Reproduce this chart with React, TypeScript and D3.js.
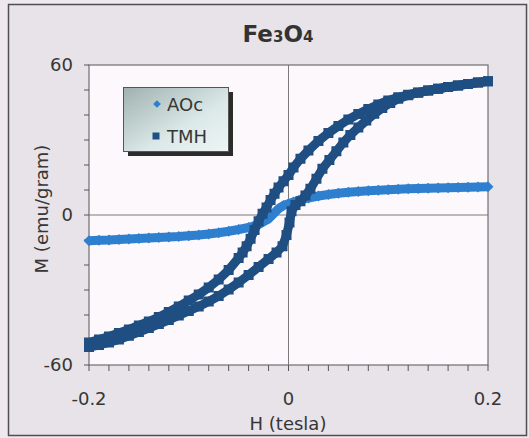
import React from "react";
import * as d3 from "d3";

// Applied field H (tesla) and magnetisation M (emu/gram)
const aocH = [
  -0.2, -0.19, -0.18, -0.17, -0.16, -0.15, -0.14, -0.13, -0.12, -0.11, -0.1, -0.09, -0.08, -0.07,
  -0.06, -0.05, -0.04, -0.03, -0.02, -0.015, -0.01, -0.005, 0, 0.005, 0.01, 0.02, 0.03, 0.04, 0.05,
  0.06, 0.07, 0.08, 0.09, 0.1, 0.11, 0.12, 0.13, 0.14, 0.15, 0.16, 0.17, 0.18, 0.19, 0.2,
];
const aocM = [
  -10.3, -10.1, -10.0, -9.8, -9.6, -9.4, -9.2, -9.0, -8.8, -8.6, -8.3, -8.0, -7.6, -7.1,
  -6.5, -5.8, -5.0, -3.8, -1.5, 0.5, 2.5, 3.8, 4.5, 5.2, 5.8, 6.8, 7.6, 8.2, 8.7,
  9.1, 9.4, 9.7, 9.9, 10.1, 10.3, 10.5, 10.6, 10.7, 10.8, 10.9, 11.0, 11.1, 11.2, 11.3,
];

// TMH loop, rising-field branch
const tmhRiseH = [
  -0.2, -0.19, -0.18, -0.17, -0.16, -0.15, -0.14, -0.13, -0.12, -0.11, -0.1, -0.09, -0.08, -0.07,
  -0.06, -0.05, -0.04, -0.03, -0.02, -0.012, -0.006, -0.002, 0.001, 0.003, 0.007, 0.012, 0.017,
  0.022, 0.028, 0.034, 0.041, 0.048, 0.055, 0.062, 0.07, 0.078, 0.086, 0.094, 0.102, 0.11, 0.12,
  0.13, 0.14, 0.15, 0.16, 0.17, 0.18, 0.19, 0.2,
];
const tmhRiseM = [
  -52.8, -52.0, -51.0, -49.8, -48.3, -46.8, -45.2, -43.6, -42.0, -40.2, -38.4, -36.6, -34.6, -32.4,
  -29.8, -27.0, -24.0, -20.8, -17.6, -15.0, -12.5, -8.0, -3.0, 1.5, 4.0, 5.5, 7.8,
  10.5, 14.5, 18.5, 22.0, 25.5, 29.0, 32.0, 35.0, 37.8, 40.5, 42.8, 44.8, 46.5, 47.9,
  48.9, 49.8, 50.5, 51.2, 51.8, 52.4, 53.0, 53.5,
];

// TMH loop, falling-field branch
const tmhFallH = [
  0.2, 0.19, 0.18, 0.17, 0.16, 0.15, 0.14, 0.13, 0.12, 0.11, 0.1, 0.09, 0.08, 0.07, 0.06, 0.05,
  0.04, 0.03, 0.02, 0.012, 0.005, 0, -0.005, -0.01, -0.014, -0.018, -0.022, -0.026, -0.03, -0.034,
  -0.038, -0.042, -0.046, -0.05, -0.06, -0.07, -0.08, -0.09, -0.1, -0.11, -0.12, -0.13, -0.14,
  -0.15, -0.16, -0.17, -0.18, -0.19, -0.2,
];
const tmhFallM = [
  53.5, 53.0, 52.4, 51.8, 51.2, 50.5, 49.8, 49.0, 48.1, 47.1, 45.8, 44.2, 42.4, 40.4, 38.2, 35.6,
  32.8, 29.6, 25.8, 22.5, 19.0, 16.0, 13.5, 11.0, 8.5, 6.0, 3.0, 0.5, -2.5, -6.0,
  -9.5, -12.5, -15.0, -17.2, -22.0, -25.8, -29.0, -31.8, -34.2, -36.6, -38.8, -40.8, -42.6,
  -44.2, -45.8, -47.2, -48.6, -49.8, -51.0,
];

const xTickLabels = [-0.2, 0, 0.2];
const yTickLabels = [-60, 0, 60];
const seriesNames = ["AOc", "TMH"];

const W = 529;
const H = 438;
const FONT = "'DejaVu Sans', Verdana, sans-serif";
const AOC_COLOR = "#2f7fcf";
const TMH_COLOR = "#1f4f82";
const TEXT = "#363636";

const plot = { left: 89, right: 488, top: 65, bottom: 365 };

export default function App() {
  const x = d3.scaleLinear().domain([-0.2, 0.2]).range([plot.left, plot.right]);
  const y = d3.scaleLinear().domain([-60, 60]).range([plot.bottom, plot.top]);

  const pts = (hs: number[], ms: number[]) => hs.map((h, i) => [h, ms[i]] as [number, number]);
  const aoc = pts(aocH, aocM);
  const tmhRise = pts(tmhRiseH, tmhRiseM);
  const tmhFall = pts(tmhFallH, tmhFallM);

  const line = d3
    .line<[number, number]>()
    .x((d) => x(d[0]))
    .y((d) => y(d[1]));

  const square = d3.symbol().type(d3.symbolSquare).size(100)()!;
  const diamond = d3.symbol().type(d3.symbolSquare).size(60)()!;
  const legSquare = d3.symbol().type(d3.symbolSquare).size(49)()!;
  const legDiamond = d3.symbol().type(d3.symbolSquare).size(30)()!;

  const xMinor = d3.range(-0.2, 0.2001, 0.02);
  const yMinor = d3.range(-60, 60.001, 10);

  const fmtX = (v: number) => (v === 0 ? "0" : d3.format(".1f")(v).replace("−", "-"));

  return (
    <svg
      width={W}
      height={H}
      style={{ position: "absolute", left: 0, top: 0 }}
      fontFamily={FONT}
    >
      <defs>
        <linearGradient id="legFill" x1="0" y1="0" x2="1" y2="1">
          <stop offset="0" stopColor="#9fb1af" />
          <stop offset="0.6" stopColor="#dbe9e8" />
          <stop offset="1" stopColor="#eef5f5" />
        </linearGradient>
        <clipPath id="plotClip">
          <rect x={plot.left - 6} y={plot.top - 6} width={plot.right - plot.left + 12} height={plot.bottom - plot.top + 12} />
        </clipPath>
      </defs>

      <rect x={0} y={0} width={W} height={H} fill="#efe9ef" />
      <rect x={8.5} y={4.5} width={518} height={431} fill="#e7e3e9" stroke="#4f4f4f" strokeWidth={1.5} />

      {/* title */}
      <text x={278} y={42} textAnchor="middle" fontWeight="bold" fontSize={23} fill="#333">
        Fe<tspan fontSize={15}>3</tspan>O<tspan fontSize={15}>4</tspan>
      </text>

      {/* plot area */}
      <rect
        x={plot.left}
        y={plot.top}
        width={plot.right - plot.left}
        height={plot.bottom - plot.top}
        fill="#fdf8fc"
        stroke="#6e6e6e"
        strokeWidth={1.2}
      />

      {/* zero lines */}
      <line x1={x(0)} x2={x(0)} y1={plot.top} y2={plot.bottom} stroke="#7a7a7a" strokeWidth={1} />
      <line x1={plot.left} x2={plot.right} y1={y(0)} y2={y(0)} stroke="#7a7a7a" strokeWidth={1} />

      {/* axis ticks */}
      {yMinor.map((v) => (
        <line key={"yt" + v} x1={plot.left - 5} x2={plot.left} y1={y(v)} y2={y(v)} stroke="#555" strokeWidth={1} />
      ))}
      {xMinor.map((v) => (
        <line key={"xt" + v} x1={x(v)} x2={x(v)} y1={plot.bottom} y2={plot.bottom + 6} stroke="#555" strokeWidth={1} />
      ))}

      {yTickLabels.map((v) => (
        <text key={"yl" + v} x={73} y={y(v)} dy="0.36em" textAnchor="end" fontSize={18} fill={TEXT}>
          {v}
        </text>
      ))}
      {xTickLabels.map((v) => (
        <text key={"xl" + v} x={x(v)} y={405} textAnchor="middle" fontSize={18} fill={TEXT}>
          {fmtX(v)}
        </text>
      ))}

      <text x={288} y={430} textAnchor="middle" fontSize={18} fill={TEXT}>
        H (tesla)
      </text>
      <text transform="translate(48,209) rotate(-90)" textAnchor="middle" fontSize={18} fill={TEXT}>
        M (emu/gram)
      </text>

      {/* series */}
      <g clipPath="url(#plotClip)">
        <path d={line(aoc)!} fill="none" stroke={AOC_COLOR} strokeWidth={9} strokeLinejoin="round" />
        {aoc.map((d, i) => (
          <path
            key={"a" + i}
            d={diamond}
            transform={`translate(${x(d[0])},${y(d[1])}) rotate(45)`}
            fill={AOC_COLOR}
          />
        ))}
        <path d={line(tmhRise)!} fill="none" stroke={TMH_COLOR} strokeWidth={9} strokeLinejoin="round" />
        <path d={line(tmhFall)!} fill="none" stroke={TMH_COLOR} strokeWidth={9} strokeLinejoin="round" />
        {tmhRise.concat(tmhFall).map((d, i) => (
          <path key={"t" + i} d={square} transform={`translate(${x(d[0])},${y(d[1])})`} fill={TMH_COLOR} />
        ))}
      </g>

      {/* legend */}
      <rect x={128} y={92} width={105} height={64} fill="#2c2c2c" />
      <rect x={123.5} y={87.5} width={105} height={64} fill="url(#legFill)" stroke="#555" strokeWidth={1} />
      <path d={legDiamond} transform="translate(157,104) rotate(45)" fill={AOC_COLOR} />
      <path d={legSquare} transform="translate(156,136)" fill={TMH_COLOR} />
      <text x={167} y={111} fontSize={18} fill={TEXT}>
        {seriesNames[0]}
      </text>
      <text x={167} y={143} fontSize={18} fill={TEXT}>
        {seriesNames[1]}
      </text>
    </svg>
  );
}
